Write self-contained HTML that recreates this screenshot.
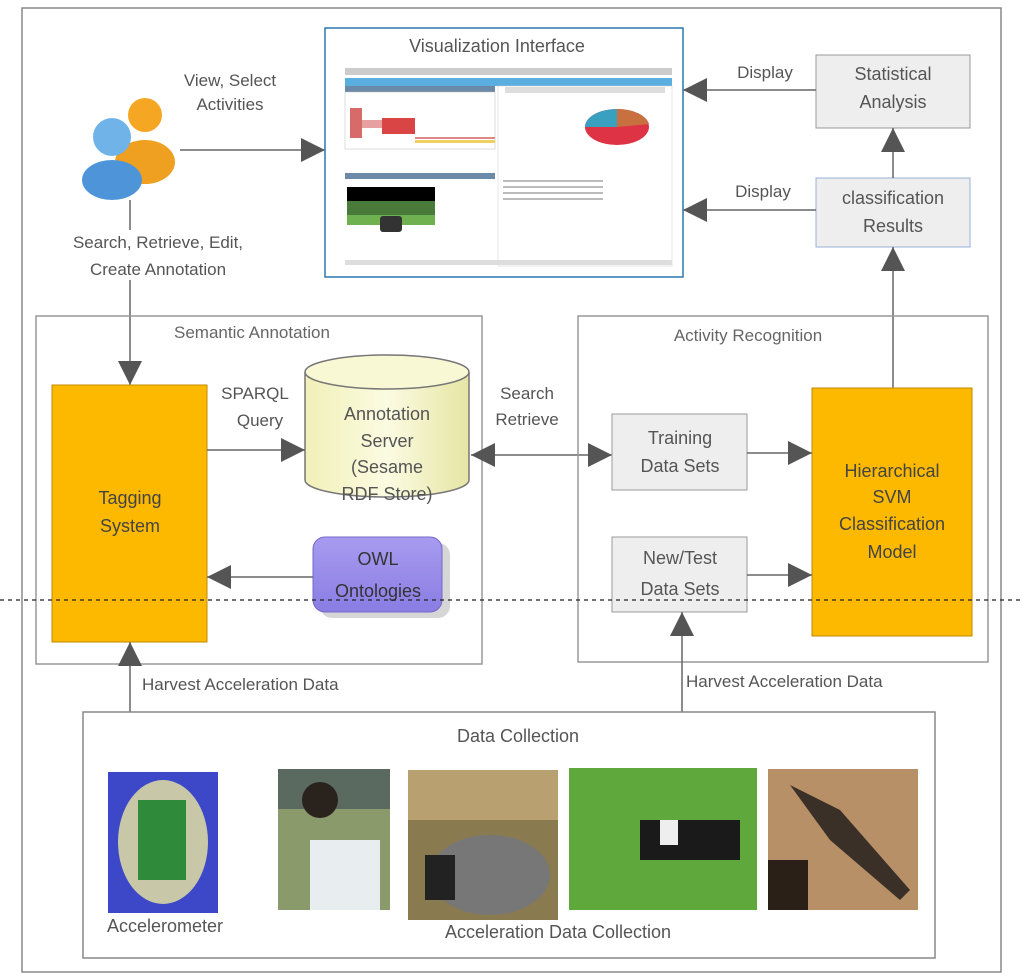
<!DOCTYPE html>
<html><head><meta charset="utf-8"><style>
body{margin:0;background:#fff;}
svg{display:block;font-family:"Liberation Sans",sans-serif;}
</style></head><body>
<svg width="1024" height="978" viewBox="0 0 1024 978" xmlns="http://www.w3.org/2000/svg">
<defs>
<marker id="ah" viewBox="0 0 10 10" refX="10" refY="5" markerWidth="10" markerHeight="10" markerUnits="userSpaceOnUse" orient="auto-start-reverse"><path d="M0,0 L10,5 L0,10 z" fill="#555"/></marker>
<marker id="ahb" viewBox="0 0 10 10" refX="10" refY="5" markerWidth="36" markerHeight="24" markerUnits="userSpaceOnUse" orient="auto-start-reverse"><path d="M0,0 L10,5 L0,10 z" fill="#555"/></marker>
<linearGradient id="cyl" x1="0" x2="1"><stop offset="0" stop-color="#f1f0b8"/><stop offset=".5" stop-color="#fbfbe2"/><stop offset="1" stop-color="#e6e5a4"/></linearGradient>
<linearGradient id="owl" x1="0" y1="0" x2="0" y2="1"><stop offset="0" stop-color="#a79bf0"/><stop offset="1" stop-color="#8a7de3"/></linearGradient>
</defs>
<rect x="22" y="8" width="979" height="964" fill="#fff" stroke="#888" stroke-width="1.5"/>

<!-- user icon -->
<circle cx="145" cy="115" r="17" fill="#f5a623"/><ellipse cx="145" cy="162" rx="30" ry="22" fill="#f0a020"/>
<circle cx="112" cy="137" r="19" fill="#6fb3e8"/><ellipse cx="112" cy="180" rx="30" ry="20" fill="#4d95d8"/>

<text x="230" y="86" font-size="17" fill="#555" text-anchor="middle">View, Select</text>
<text x="230" y="110" font-size="17" fill="#555" text-anchor="middle">Activities</text>
<line x1="180" y1="150" x2="325" y2="150" stroke="#666" stroke-width="1.5" marker-end="url(#ahb)"/>
<line x1="130" y1="200" x2="130" y2="385" stroke="#666" stroke-width="1.5" marker-end="url(#ahb)"/>
<rect x="55" y="230" width="150" height="50" fill="#fff"/>
<text x="158" y="248" font-size="17" fill="#555" text-anchor="middle">Search, Retrieve, Edit,</text>
<text x="158" y="275" font-size="17" fill="#555" text-anchor="middle">Create Annotation</text>

<!-- Visualization -->
<rect x="325" y="28" width="358" height="249" fill="#fff" stroke="#2a78b0" stroke-width="1.5"/>
<text x="497" y="52" font-size="18" fill="#555" text-anchor="middle">Visualization Interface</text>
<rect x="345" y="68" width="327" height="7" fill="#ccc"/>
<rect x="345" y="78" width="327" height="8" fill="#5aaee0"/>
<rect x="345" y="86" width="150" height="6" fill="#6a8aa8"/>
<rect x="345" y="92" width="150" height="57" fill="#fff" stroke="#bbb" stroke-width=".5"/>
<rect x="350" y="108" width="12" height="30" fill="#d96a6a"/><rect x="382" y="118" width="33" height="16" fill="#d94444"/><rect x="362" y="120" width="20" height="8" fill="#e6a0a0"/><rect x="415" y="140" width="80" height="3" fill="#f0d060"/><rect x="415" y="137" width="80" height="2" fill="#d88"/>
<rect x="345" y="173" width="150" height="6" fill="#6a8aa8"/>
<rect x="347" y="187" width="88" height="14" fill="#000"/>
<rect x="347" y="201" width="88" height="22" fill="#4a7a3a"/><rect x="347" y="215" width="88" height="10" fill="#6fb050"/>
<rect x="380" y="216" width="22" height="16" rx="3" fill="#333"/>
<rect x="498" y="86" width="174" height="180" fill="#fff" stroke="#ccc" stroke-width=".5"/>
<rect x="505" y="87" width="160" height="6" fill="#ddd"/>
<ellipse cx="617" cy="127" rx="32" ry="18" fill="#d34"/><path d="M617,127 L617,109 A32,18 0 0 1 649,124 z" fill="#c87040"/><path d="M617,127 L585,127 A32,18 0 0 1 617,109 z" fill="#3aa0c0"/>
<rect x="503" y="180" width="100" height="2" fill="#bbb"/><rect x="503" y="186" width="100" height="2" fill="#bbb"/><rect x="503" y="192" width="100" height="2" fill="#bbb"/><rect x="503" y="198" width="100" height="2" fill="#bbb"/>
<rect x="345" y="260" width="327" height="5" fill="#ddd"/>

<!-- Right top -->
<rect x="816" y="55" width="154" height="73" fill="#eee" stroke="#999"/>
<text x="893" y="80" font-size="18" fill="#555" text-anchor="middle">Statistical</text>
<text x="893" y="108" font-size="18" fill="#555" text-anchor="middle">Analysis</text>
<rect x="816" y="178" width="154" height="69" fill="#eee" stroke="#9ab0d8"/>
<text x="893" y="204" font-size="18" fill="#555" text-anchor="middle">classification</text>
<text x="893" y="232" font-size="18" fill="#555" text-anchor="middle">Results</text>
<line x1="816" y1="90" x2="683" y2="90" stroke="#666" stroke-width="1.5" marker-end="url(#ahb)"/>
<line x1="816" y1="210" x2="683" y2="210" stroke="#666" stroke-width="1.5" marker-end="url(#ahb)"/>
<text x="765" y="78" font-size="17" fill="#555" text-anchor="middle">Display</text>
<text x="763" y="197" font-size="17" fill="#555" text-anchor="middle">Display</text>
<line x1="893" y1="178" x2="893" y2="128" stroke="#666" stroke-width="1.5" marker-end="url(#ahb)"/>
<line x1="893" y1="388" x2="893" y2="247" stroke="#666" stroke-width="1.5" marker-end="url(#ahb)"/>

<!-- Semantic annotation -->
<rect x="36" y="316" width="446" height="348" fill="none" stroke="#999" stroke-width="1.5"/>
<text x="252" y="338" font-size="17" fill="#666" text-anchor="middle">Semantic Annotation</text>
<rect x="52" y="385" width="155" height="257" fill="#fcb900" stroke="#c08a00"/>
<text x="130" y="504" font-size="18" fill="#444" text-anchor="middle">Tagging</text>
<text x="130" y="532" font-size="18" fill="#444" text-anchor="middle">System</text>
<path d="M305,372 L305,480 A82,17 0 0 0 469,480 L469,372" fill="url(#cyl)" stroke="#777" stroke-width="1.5"/>
<ellipse cx="387" cy="372" rx="82" ry="17" fill="#f8f8d4" stroke="#777" stroke-width="1.5"/>
<text x="387" y="420" font-size="18" fill="#555" text-anchor="middle">Annotation</text>
<text x="387" y="447" font-size="18" fill="#555" text-anchor="middle">Server</text>
<text x="387" y="473" font-size="18" fill="#555" text-anchor="middle">(Sesame</text>
<text x="387" y="500" font-size="18" fill="#555" text-anchor="middle">RDF Store)</text>
<text x="255" y="399" font-size="17" fill="#555" text-anchor="middle">SPARQL</text>
<text x="260" y="426" font-size="17" fill="#555" text-anchor="middle">Query</text>
<line x1="207" y1="450" x2="305" y2="450" stroke="#666" stroke-width="1.5" marker-end="url(#ahb)"/>
<rect x="320" y="543" width="130" height="75" rx="12" fill="#bbb" opacity=".6"/>
<rect x="313" y="537" width="129" height="75" rx="12" fill="url(#owl)" stroke="#7568c8"/>
<text x="378" y="565" font-size="18" fill="#333" text-anchor="middle">OWL</text>
<text x="378" y="597" font-size="18" fill="#333" text-anchor="middle">Ontologies</text>
<line x1="313" y1="577" x2="207" y2="577" stroke="#666" stroke-width="1.5" marker-end="url(#ahb)"/>

<text x="527" y="399" font-size="17" fill="#555" text-anchor="middle">Search</text>
<text x="527" y="425" font-size="17" fill="#555" text-anchor="middle">Retrieve</text>
<line x1="471" y1="455" x2="612" y2="455" stroke="#666" stroke-width="1.5" marker-start="url(#ahb)" marker-end="url(#ahb)"/>

<!-- Activity recognition -->
<rect x="578" y="316" width="410" height="346" fill="none" stroke="#999" stroke-width="1.5"/>
<text x="748" y="341" font-size="17" fill="#666" text-anchor="middle">Activity Recognition</text>
<rect x="612" y="414" width="135" height="76" fill="#eee" stroke="#999"/>
<text x="680" y="444" font-size="18" fill="#555" text-anchor="middle">Training</text>
<text x="680" y="472" font-size="18" fill="#555" text-anchor="middle">Data Sets</text>
<rect x="612" y="537" width="135" height="75" fill="#eee" stroke="#999"/>
<text x="680" y="564" font-size="18" fill="#555" text-anchor="middle">New/Test</text>
<text x="680" y="595" font-size="18" fill="#555" text-anchor="middle">Data Sets</text>
<rect x="812" y="388" width="160" height="248" fill="#fcb900" stroke="#c08a00"/>
<text x="892" y="477" font-size="18" fill="#444" text-anchor="middle">Hierarchical</text>
<text x="892" y="503" font-size="18" fill="#444" text-anchor="middle">SVM</text>
<text x="892" y="530" font-size="18" fill="#444" text-anchor="middle">Classification</text>
<text x="892" y="558" font-size="18" fill="#444" text-anchor="middle">Model</text>
<line x1="747" y1="453" x2="812" y2="453" stroke="#666" stroke-width="1.5" marker-end="url(#ahb)"/>
<line x1="747" y1="575" x2="812" y2="575" stroke="#666" stroke-width="1.5" marker-end="url(#ahb)"/>

<line x1="0" y1="600" x2="1024" y2="600" stroke="#222" stroke-width="1.2" stroke-dasharray="4,4"/>

<!-- harvest -->
<line x1="130" y1="712" x2="130" y2="642" stroke="#666" stroke-width="1.5" marker-end="url(#ahb)"/>
<line x1="682" y1="712" x2="682" y2="612" stroke="#666" stroke-width="1.5" marker-end="url(#ahb)"/>
<text x="142" y="690" font-size="17" fill="#555">Harvest Acceleration Data</text>
<text x="686" y="687" font-size="17" fill="#555">Harvest Acceleration Data</text>

<!-- Data collection -->
<rect x="83" y="712" width="852" height="246" fill="#fff" stroke="#888" stroke-width="1.5"/>
<text x="518" y="742" font-size="18" fill="#555" text-anchor="middle">Data Collection</text>
<rect x="108" y="772" width="110" height="141" fill="#3c48c8"/>
<ellipse cx="163" cy="842" rx="45" ry="62" fill="#c8c8a8"/><rect x="138" y="800" width="48" height="80" fill="#2f8a3a"/>
<rect x="278" y="769" width="112" height="141" fill="#8a9a6a"/><rect x="278" y="769" width="112" height="40" fill="#5a6a60"/><rect x="310" y="840" width="70" height="70" fill="#e8eef0"/><circle cx="320" cy="800" r="18" fill="#2a221c"/>
<rect x="408" y="770" width="150" height="150" fill="#8a7a50"/><rect x="408" y="770" width="150" height="50" fill="#b8a070"/><ellipse cx="490" cy="875" rx="60" ry="40" fill="#777"/><rect x="425" y="855" width="30" height="45" fill="#222"/>
<rect x="569" y="768" width="188" height="142" fill="#5fa83c"/><rect x="640" y="820" width="100" height="40" fill="#1a1a1a"/><rect x="660" y="820" width="18" height="25" fill="#eee"/>
<rect x="768" y="769" width="150" height="141" fill="#b89068"/><rect x="768" y="860" width="40" height="50" fill="#2a2018"/><path d="M790,785 L840,810 L910,890 L900,900 L830,840 Z" fill="#3a3028"/>
<text x="165" y="932" font-size="18" fill="#555" text-anchor="middle">Accelerometer</text>
<text x="558" y="938" font-size="18" fill="#555" text-anchor="middle">Acceleration Data Collection</text>
</svg>
</body></html>
